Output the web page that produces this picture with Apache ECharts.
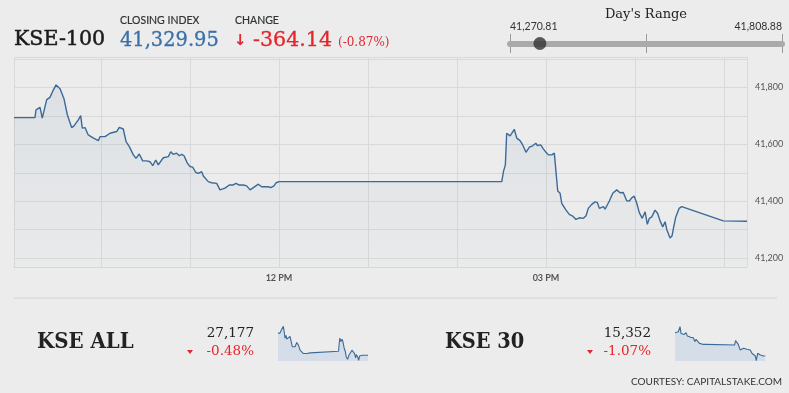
<!DOCTYPE html>
<html><head><meta charset="utf-8">
<script src="https://cdn.jsdelivr.net/npm/echarts@6/dist/echarts.min.js"></script>
<style>html,body{margin:0;padding:0;background:#ececec;}#c{width:789px;height:393px;}</style>
</head><body><div id="c"></div>
<script>
// ---- data ----
const indexName = 'KSE-100';
const closingIndex = 41329.95;
const change = -364.14;
const changePct = -0.87;
const dayLow = 41270.81;
const dayHigh = 41808.88;
// minutes after 09:00
const times = [1.3,15.5,16.2,18.9,20.4,21.6,23.4,25.6,27.4,29.7,31.0,32.4,35.1,37.3,40.2,41.8,43.1,44.7,46.3,47.4,49.2,51.4,54.4,58.2,59.3,62.7,66.1,70.6,72.3,75.0,76.9,79.1,81.8,83.6,85.8,88.1,90.8,93.0,94.9,96.9,98.6,102.0,105.4,107.0,108.7,111.0,112.8,114.4,116.0,118.2,120.0,121.8,123.8,125.6,127.9,129.0,132.3,134.6,138.0,140.2,141.4,143.6,146.5,148.8,151.0,153.2,155.9,158.2,160.5,162.7,166.1,168.3,170.6,172.8,174.4,176.6,178.0,180.2,330.2,331.3,332.6,333.5,334.6,335.8,336.9,338.6,340.3,342.5,344.3,346.5,348.8,351.0,353.1,354.2,356.4,357.1,358.2,360.0,361.6,363.9,365.6,366.8,367.9,369.5,370.6,371.7,373.5,375.7,378.0,380.2,382.5,385.2,387.0,388.5,390.8,393.1,394.6,396.0,397.1,398.7,399.8,401.3,402.7,403.6,405.0,407.7,409.9,412.1,414.4,416.2,417.8,419.5,421.2,422.9,424.9,426.8,428.3,429.7,431.3,433.5,435.3,436.9,438.7,440.3,441.4,442.5,443.6,445.0,445.9,447.5,448.5,449.7,451.5,479.5,495.5];
const values = [41694,41694,41721,41730,41692,41693,41757,41765,41786,41809,41802,41795,41759,41704,41659,41665,41658,41686,41701,41657,41659,41633,41624,41613,41627,41627,41639,41645,41660,41654,41610,41592,41563,41551,41566,41542,41542,41539,41525,41545,41528,41553,41557,41574,41565,41569,41560,41565,41560,41534,41522,41520,41502,41498,41504,41489,41469,41465,41463,41440,41437,41446,41457,41457,41463,41457,41457,41454,41440,41448,41460,41451,41451,41451,41448,41454,41465,41469,41469,41504,41528,41639,41636,41630,41639,41653,41622,41613,41598,41572,41590,41595,41604,41596,41598,41604,41584,41572,41563,41563,41569,41563,41436,41428,41393,41389,41369,41354,41348,41336,41342,41340,41349,41375,41389,41398,41396,41375,41381,41381,41372,41387,41401,41404,41428,41440,41430,41431,41402,41401,41412,41418,41393,41360,41340,41363,41319,41340,41345,41369,41357,41331,41310,41328,41301,41305,41271,41279,41305,41345,41340,41375,41381,41331,41330];
const xTickLabels = {180:'12 PM', 360:'03 PM'};

const allName = 'KSE ALL', allLast = '27,177', allPct = '-0.48%';
const allTimes = [1.3,12.3,17.8,23.3,30.7,36.2,39.9,45.4,49.1,58.2,67.4,72.9,80.3,85.8,95.0,104.2,113.4,122.5,131.7,140.9,150.1,159.3,168.5,177.6,183.2,333.8,337.5,341.1,346.7,352.2,357.7,365.0,370.5,376.1,383.4,390.8,398.1,407.3,416.5,422.0,427.5,431.2,438.6,444.1,449.6,462.4,495.5];
const allVals = [27308,27308,27322,27318,27348,27308,27278,27294,27272,27274,27288,27294,27227,27223,27227,27252,27237,27207,27201,27187,27183,27187,27181,27191,27201,27201,27248,27278,27258,27272,27258,27217,27201,27167,27153,27177,27181,27207,27197,27187,27161,27181,27167,27147,27173,27177,27177];

const k30Name = 'KSE 30', k30Last = '15,352', k30Pct = '-1.07%';
const k30Times = [1.3,19.5,28.6,34.0,43.1,50.4,61.3,68.5,75.8,86.7,94.0,101.2,108.5,115.8,124.9,134.0,143.0,152.1,161.2,170.3,179.4,324.7,330.2,337.4,344.7,355.6,364.7,373.8,382.9,391.9,401.0,410.1,419.2,428.3,437.4,442.8,450.1,457.4,464.6,482.8,491.9,495.5];
const k30Vals = [15518,15525,15561,15513,15513,15506,15518,15494,15501,15485,15471,15482,15454,15471,15461,15442,15430,15435,15430,15435,15430,15430,15461,15447,15435,15395,15383,15407,15395,15400,15390,15395,15371,15359,15352,15319,15371,15366,15359,15352,15352,15352];

// ---- helpers ----
const zip = (a,b) => a.slice(0, Math.min(a.length,b.length)).map((t,i)=>[t,b[i]]);
const fmt = (v,d) => v.toLocaleString('en-US',{minimumFractionDigits:d,maximumFractionDigits:d});
const SERIF = '"DejaVu Serif"';
const SANS = 'Lato';
const RED = '#e3262d';
const BLUE = '#3a70a8';
const LINE = '#3b6a98';

const chart = echarts.init(document.getElementById('c'), null, {renderer:'canvas'});
function txt(x,y,text,font,fill,align,extra,heavy){
  const st = {text:text, font:font, fill:fill, textAlign:align||'left', textVerticalAlign:'middle'};
  if (heavy) { st.stroke = fill; st.lineWidth = heavy; }
  return Object.assign({type:'text', x:x, y:y, silent:true, style:st}, extra||{});
}
const tri = (cx,cy) => ({type:'polygon', silent:true, shape:{points:[[cx-3,cy-2],[cx+3,cy-2],[cx,cy+2]]}, style:{fill:RED}});

const option = {
  animation:false,
  backgroundColor:'#ececec',
  grid:[
    {left:14, top:57, right:42, bottom:126},
    {left:278, top:326, width:90, height:35},
    {left:675, top:326, width:91, height:35},
    {left:510, top:34, width:272, height:19}
  ],
  xAxis:[
    {type:'value', gridIndex:0, min:1.35, max:495.5, minInterval:60, maxInterval:60,
     axisLine:{show:true, lineStyle:{color:'#d6d6d6'}}, axisTick:{show:false},
     axisLabel:{show:true, margin:7, color:'#555', fontFamily:SANS, fontSize:9, fontWeight:'bold',
       formatter:v=> xTickLabels[Math.round(v)] && Math.abs(v-Math.round(v))<1e-6 ? xTickLabels[Math.round(v)] : '',
       showMinLabel:false, showMaxLabel:false},
     splitLine:{show:true, lineStyle:{color:'#d9d9d9', width:1}}},
    {type:'value', gridIndex:1, min:1.3, max:495.5, show:false},
    {type:'value', gridIndex:2, min:1.3, max:495.5, show:false},
    {type:'value', gridIndex:3, min:dayLow, max:dayHigh, interval:(dayHigh-dayLow)/2,
     axisLine:{show:true, onZero:true, lineStyle:{color:'#aaaaaa', width:6}}, axisTick:{show:false}, axisLabel:{show:false},
     splitLine:{show:true, lineStyle:{color:'#9a9a9a', width:1}}}
  ],
  yAxis:[
    {type:'value', gridIndex:0, position:'right', min:41169, max:41907, minInterval:100, maxInterval:100, splitNumber:7,
     axisLine:{show:false}, axisTick:{show:false},
     axisLabel:{show:true, margin:8, color:'#555', fontFamily:SANS, fontSize:9,
       formatter:v=> (Math.abs(v%200)<1e-6) ? fmt(v,0) : ''},
     splitLine:{show:true, lineStyle:{color:'#d9d9d9', width:1}}},
    {type:'value', gridIndex:1, min:27143, max:27350, show:false},
    {type:'value', gridIndex:2, min:15316, max:15566, show:false},
    {type:'value', gridIndex:3, min:-1, max:1, show:false}
  ],
  series:[
    {type:'line', xAxisIndex:0, yAxisIndex:0, data:zip(times,values), symbol:'none',
     lineStyle:{color:LINE, width:1.4},
     areaStyle:{color:new echarts.graphic.LinearGradient(0,0,0,1,[{offset:0,color:'rgba(59,106,152,0.13)'},{offset:1,color:'rgba(59,106,152,0.02)'}]), origin:'start'}},
    {type:'line', xAxisIndex:1, yAxisIndex:1, data:zip(allTimes,allVals), symbol:'none',
     lineStyle:{color:LINE, width:1.1}, areaStyle:{color:'#d5dee8', opacity:1, origin:'start'}},
    {type:'line', xAxisIndex:2, yAxisIndex:2, data:zip(k30Times,k30Vals), symbol:'none',
     lineStyle:{color:LINE, width:1.1}, areaStyle:{color:'#d5dee8', opacity:1, origin:'start'}},
    {type:'scatter', xAxisIndex:3, yAxisIndex:3, data:[[closingIndex,0]], symbolSize:13, itemStyle:{color:'#333'}, z:10}
  ],
  graphic:[
    txt(14,40,indexName,'normal 21px '+SERIF,'#1a1a1a',null,{scaleX:0.98},0.5),
    txt(120,21,'CLOSING INDEX','normal 10.5px '+SANS,'#333',null,null,0.2),
    txt(120,41,fmt(closingIndex,2),'normal 20px '+SERIF,BLUE,null,{scaleX:0.97},0.3),
    txt(235,21,'CHANGE','normal 10.5px '+SANS,'#333',null,null,0.2),
    txt(234,41,'↓','bold 15px "DejaVu Sans"',RED),
    txt(253,41,change.toFixed(2),'normal 20px '+SERIF,RED,null,{scaleX:1.03},0.3),
    txt(338,43,'('+changePct.toFixed(2)+'%)','normal 12px '+SERIF,RED),
    txt(646,15,"Day's Range",'normal 13px '+SERIF,'#222','center'),
    txt(510,27,fmt(dayLow,2),'normal 10.5px '+SANS,'#333'),
    txt(782,27,fmt(dayHigh,2),'normal 10.5px '+SANS,'#333','right'),
    {type:'line', silent:true, shape:{x1:14,y1:298,x2:777,y2:298}, style:{stroke:'#d2d2d2', lineWidth:1}},
    txt(37,342,allName,'bold 22px '+SERIF,'#222',null,{scaleX:0.9}),
    txt(254,333,allLast,'normal 13.5px '+SERIF,'#222','right'),
    txt(254,351,allPct,'normal 13.5px '+SERIF,RED,'right'),
    tri(190,352),
    txt(445,342,k30Name,'bold 22px '+SERIF,'#222',null,{scaleX:0.88}),
    txt(651,333,k30Last,'normal 13.5px '+SERIF,'#222','right'),
    txt(651,351,k30Pct,'normal 13.5px '+SERIF,RED,'right'),
    tri(590,352),
    txt(782,382,'COURTESY: CAPITALSTAKE.COM','normal 10px '+SANS,'#333','right')
  ]
};
chart.setOption(option);
</script></body></html>
